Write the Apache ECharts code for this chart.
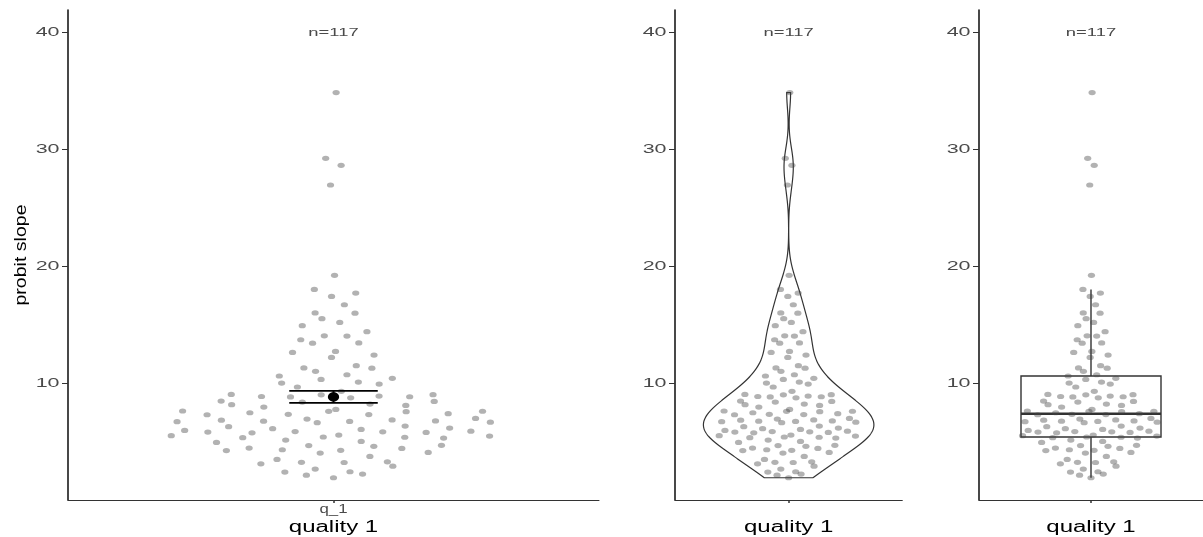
<!DOCTYPE html>
<html><head><meta charset="utf-8">
<script src="https://cdn.jsdelivr.net/npm/echarts@6/dist/echarts.min.js"></script>
<style>html,body{margin:0;padding:0;background:#fff}#c{width:1203px;height:537px}</style>
</head><body><div id="c"></div>
<script>
// ---------- data ----------
const categories = ['q_1'];
const xTitle = 'quality 1';
const yTitle = 'probit slope';
const yTicks = [10, 20, 30, 40];
const nLabelAt = 40;
const slopeValues = [
  34.85, 29.23, 28.63, 26.95,
  19.23, 18.03, 17.43, 17.72, 16.72, 16.02, 16.00, 15.53, 15.21, 14.93, 14.42, 13.73,
  13.44, 14.06, 14.04, 13.46, 12.65, 12.73, 12.22, 12.42, 11.32, 11.03, 11.51, 11.30,
  10.63, 10.74, 10.43, 10.03, 10.34, 10.11, 9.94, 9.69, 9.06, 8.88, 8.84, 9.02, 9.32,
  8.77, 8.92, 8.86, 9.04, 8.49, 8.18, 8.40, 8.23, 8.12, 8.46, 7.98, 7.64, 7.32, 7.49,
  7.36, 7.61, 7.78, 7.34, 7.58, 7.41, 7.62, 6.73, 6.86, 6.77, 6.95, 6.64, 6.75, 6.88,
  6.79, 7.01, 6.69, 5.98, 5.53, 5.84, 6.30, 5.78, 6.13, 5.88, 5.36, 5.42, 5.58, 6.07,
  5.86, 6.35, 5.40, 5.81, 6.18, 5.92, 5.50, 5.33, 4.96, 5.16, 5.04, 4.26, 4.47, 4.33,
  4.69, 4.05, 4.28, 4.62, 4.44, 4.10, 4.71, 3.13, 3.50, 3.26, 3.24, 3.76, 3.30, 2.93,
  2.42, 2.16, 2.68, 2.45, 2.25, 1.94
];

// ---------- statistics (computed from the data) ----------
const n = slopeValues.length;
const sorted = slopeValues.slice().sort((a, b) => a - b);
const dmin = sorted[0], dmax = sorted[n - 1];
function quantile(p) {
  const h = (n - 1) * p, lo = Math.floor(h), hi = Math.min(lo + 1, n - 1);
  return sorted[lo] + (h - lo) * (sorted[hi] - sorted[lo]);
}
const mean = slopeValues.reduce((s, v) => s + v, 0) / n;
const sd = Math.sqrt(slopeValues.reduce((s, v) => s + (v - mean) * (v - mean), 0) / (n - 1));
const se = sd / Math.sqrt(n);
const q1 = quantile(0.25), med = quantile(0.5), q3 = quantile(0.75), iqr = q3 - q1;
const whiskHi = Math.max(...slopeValues.filter(v => v <= q3 + 1.5 * iqr));
const whiskLo = Math.min(...slopeValues.filter(v => v >= q1 - 1.5 * iqr));
const bw0 = 0.9 * Math.min(sd, iqr / 1.34) * Math.pow(n, -0.2);
function kde(y, bw) {
  let s = 0;
  for (const v of slopeValues) { const z = (y - v) / bw; s += Math.exp(-0.5 * z * z); }
  return s / (n * bw * Math.sqrt(2 * Math.PI));
}
// quasirandom offsets (van der Corput by rank, scaled by density, bandwidth adjust 0.5)
const bwQ = bw0 * 0.5;
let maxQ = 0;
for (let k = 0; k < 512; k++) {
  const y = dmin - 3 * bwQ + (dmax - dmin + 6 * bwQ) * k / 511;
  maxQ = Math.max(maxQ, kde(y, bwQ));
}
function vdc(k) { let r = 0, f = 0.5; while (k > 0) { r += f * (k & 1); k >>= 1; f /= 2; } return r; }
const order = slopeValues.map((v, i) => i).sort((a, b) => slopeValues[a] - slopeValues[b] || a - b);
const rank = new Array(n);
order.forEach((idx, r) => { rank[idx] = r + 1; });
const offsets = slopeValues.map((v, i) => (vdc(rank[i]) - 0.5) * 2 * 0.4 * kde(v, bwQ) / maxQ);
const points = slopeValues.map((v, i) => [1 + offsets[i], v]);

// violin outline (trimmed density, width 0.9)
const vY = [], vW = [];
let maxV = 0;
for (let k = 0; k < 512; k++) {
  const y = dmin + (dmax - dmin) * k / 511;
  const d = kde(y, bw0);
  vY.push(y); vW.push(d); maxV = Math.max(maxV, d);
}
const violinPoly = [];
for (let k = 0; k < 512; k++) violinPoly.push([1 - 0.45 * vW[k] / maxV, vY[k]]);
for (let k = 511; k >= 0; k--) violinPoly.push([1 + 0.45 * vW[k] / maxV, vY[k]]);

// axis ranges
const yMin = dmin - 0.05 * (nLabelAt - dmin);
const yMax = nLabelAt + 0.05 * (nLabelAt - dmin);

// ---------- chart ----------
const FONT = '"Liberation Sans", Arial, sans-serif';
const grids = [
  { left: 68, top: 10, width: 531, height: 490 },
  { left: 675, top: 10, width: 227.3, height: 490 },
  { left: 979, top: 10, width: 226, height: 490 }
];
const PTCOL = 'rgba(70,70,70,0.52)';
const ELL = 'path://M0,5A5,5 0 1,1 10,5A5,5 0 1,1 0,5Z';

function textEl(x, y, text, size, color, align, vAlign, sx, rot) {
  return {
    type: 'text', x: x, y: y, scaleX: sx || 1, rotation: rot || 0,
    style: { text: text, x: 0, y: 0, fontSize: size, fontFamily: FONT, fill: color,
      align: align, verticalAlign: vAlign }
  };
}

const xAxes = [], yAxes = [], series = [];
grids.forEach((g, gi) => {
  xAxes.push({
    type: 'value', gridIndex: gi, min: 0.4, max: 1.6,
    axisLine: { show: true, lineStyle: { color: '#333', width: 1 } },
    axisTick: { show: true, length: 3, customValues: [1], lineStyle: { color: '#333', width: 1.5 } },
    axisLabel: { show: false }, splitLine: { show: false }
  });
  yAxes.push({
    type: 'value', gridIndex: gi, min: yMin, max: yMax,
    axisLine: { show: true, lineStyle: { color: '#1a1a1a', width: 1.6 } },
    axisTick: { show: true, length: 6, customValues: yTicks, lineStyle: { color: '#333', width: 1 } },
    axisLabel: { show: false }, splitLine: { show: false }
  });
  // tick labels + titles + n label
  series.push({
    type: 'custom', xAxisIndex: gi, yAxisIndex: gi, silent: true, z: 5,
    data: [0],
    renderItem: function (params, api) {
      const ch = [];
      yTicks.forEach(t => {
        const p = api.coord([0.4, t]);
        ch.push(textEl(p[0] - 8.5, p[1] + 0.5, String(t), 13, '#4a4a4a', 'right', 'middle', 1.65));
      });
      const pb = api.coord([1, yMin]);
      if (gi === 0) ch.push(textEl(pb[0], pb[1] + 10, categories[0], 12, '#4a4a4a', 'center', 'middle', 1.4));
      ch.push(textEl(pb[0], pb[1] + 28, xTitle, 16, '#000', 'center', 'middle', 1.5));
      const pn = api.coord([1, nLabelAt]);
      ch.push(textEl(pn[0], pn[1] + 1, 'n=' + n, 11.5, '#4a4a4a', 'center', 'middle', 1.6));
      return { type: 'group', children: ch };
    }
  });
});

// panel 2: violin outline
series.push({
  type: 'custom', xAxisIndex: 1, yAxisIndex: 1, silent: true, data: [0],
  renderItem: function (params, api) {
    return { type: 'polygon', shape: { points: violinPoly.map(p => api.coord(p)) },
      style: { fill: 'none', stroke: '#333', lineWidth: 1.2 } };
  }
});
// panel 3: box plot
series.push({
  type: 'custom', xAxisIndex: 2, yAxisIndex: 2, silent: true, data: [0],
  renderItem: function (params, api) {
    const a = api.coord([1 - 0.375, q3]), b = api.coord([1 + 0.375, q1]);
    const m1 = api.coord([1 - 0.375, med]), m2 = api.coord([1 + 0.375, med]);
    const t1 = api.coord([1, q3]), t2 = api.coord([1, whiskHi]);
    const l1 = api.coord([1, q1]), l2 = api.coord([1, whiskLo]);
    const ls = { stroke: '#333', lineWidth: 1.4 };
    return { type: 'group', children: [
      { type: 'line', shape: { x1: t1[0], y1: t1[1], x2: t2[0], y2: t2[1] }, style: ls },
      { type: 'line', shape: { x1: l1[0], y1: l1[1], x2: l2[0], y2: l2[1] }, style: ls },
      { type: 'rect', shape: { x: a[0], y: a[1], width: b[0] - a[0], height: b[1] - a[1] },
        style: { fill: '#fff', stroke: '#333', lineWidth: 1.4 } },
      { type: 'line', shape: { x1: m1[0], y1: m1[1], x2: m2[0], y2: m2[1] }, style: { stroke: '#333', lineWidth: 2.4 } }
    ] };
  }
});
// points in all panels
[0, 1, 2].forEach(gi => {
  series.push({
    type: 'scatter', xAxisIndex: gi, yAxisIndex: gi, data: points, silent: true,
    symbol: ELL, symbolSize: [7.2, 5.2], itemStyle: { color: PTCOL }
  });
});
// panel 1: mean +/- se
series.push({
  type: 'custom', xAxisIndex: 0, yAxisIndex: 0, silent: true, z: 4, data: [0],
  renderItem: function (params, api) {
    const u1 = api.coord([0.9, mean + se]), u2 = api.coord([1.1, mean + se]);
    const d1 = api.coord([0.9, mean - se]), d2 = api.coord([1.1, mean - se]);
    const c = api.coord([1, mean]);
    const ls = { stroke: '#000', lineWidth: 1.8 };
    return { type: 'group', children: [
      { type: 'line', shape: { x1: u1[0], y1: u1[1], x2: u2[0], y2: u2[1] }, style: ls },
      { type: 'line', shape: { x1: d1[0], y1: d1[1], x2: d2[0], y2: d2[1] }, style: ls },
      { type: 'line', shape: { x1: c[0], y1: u1[1], x2: c[0], y2: d1[1] }, style: { stroke: '#000', lineWidth: 2 } },
      { type: 'ellipse', shape: { cx: c[0], cy: c[1], rx: 5.6, ry: 4.6 }, style: { fill: '#000' } }
    ] };
  }
});

const chart = echarts.init(document.getElementById('c'), null, { renderer: 'canvas' });
chart.setOption({
  animation: false,
  backgroundColor: '#fff',
  grid: grids,
  xAxis: xAxes,
  yAxis: yAxes,
  graphic: [{
    type: 'text', x: 21, y: 255, rotation: Math.PI / 2, scaleX: 1.15,
    style: { text: yTitle, x: 0, y: 0, fontSize: 17, fontFamily: FONT, fill: '#000', align: 'center', verticalAlign: 'middle' }
  }],
  series: series
});
</script>
</body></html>
